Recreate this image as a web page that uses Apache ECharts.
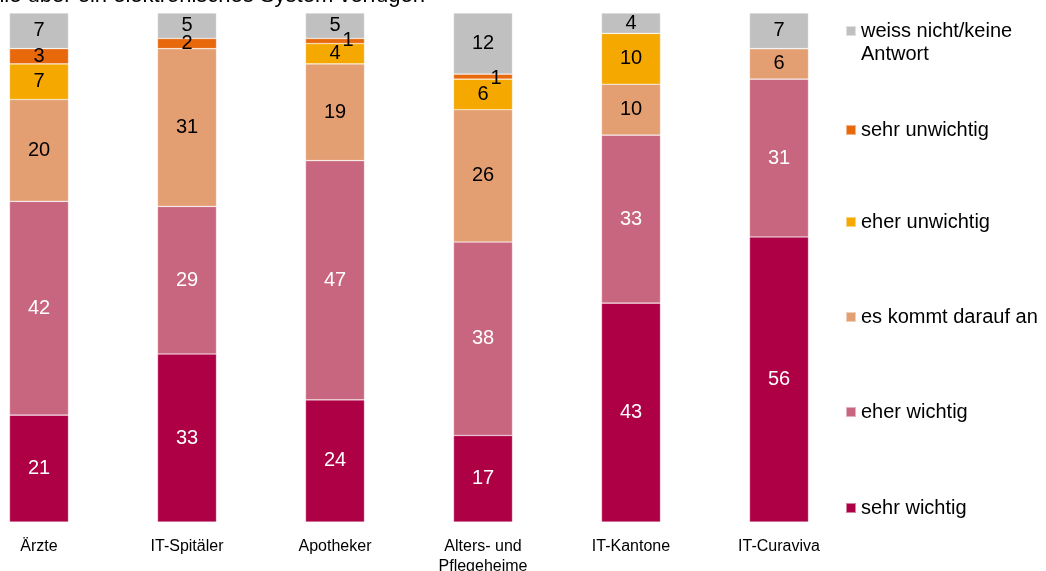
<!DOCTYPE html>
<html>
<head>
<meta charset="utf-8">
<script src="https://cdn.jsdelivr.net/npm/echarts@6/dist/echarts.min.js"></script>
<style>
html,body{margin:0;padding:0;background:#fff;}
#chart{width:1046px;height:571px;}
</style>
</head>
<body>
<div id="chart"></div>
<script>
const titleText = 'alle über ein elektronisches System verfügen';
const categories = ['Ärzte', 'IT-Spitäler', 'Apotheker', 'Alters- und\nPflegeheime', 'IT-Kantone', 'IT-Curaviva'];
const seriesNames = ['sehr wichtig', 'eher wichtig', 'es kommt darauf an', 'eher unwichtig', 'sehr unwichtig', 'weiss nicht/keine Antwort'];
const sehrWichtig     = [21, 33, 24, 17, 43, 56];
const eherWichtig     = [42, 29, 47, 38, 33, 31];
const esKommtDarauf   = [20, 31, 19, 26, 10, 6];
const eherUnwichtig   = [7, 0, 4, 6, 10, 0];
const sehrUnwichtig   = [3, 2, 1, 1, 0, 0];
const weissNicht      = [7, 5, 5, 12, 4, 7];

const values = [sehrWichtig, eherWichtig, esKommtDarauf, eherUnwichtig, sehrUnwichtig, weissNicht];
const colors = ['#AE0045', '#C8667F', '#E39E72', '#F5A800', '#E8680C', '#C0C0C0'];
const labelColors = ['#fff', '#fff', '#000', '#000', '#000', '#000'];

const font = '"Liberation Sans", Arial, sans-serif';

const series = seriesNames.map((name, si) => ({
  name: name,
  type: 'bar',
  stack: 'total',
  barWidth: 59,
  itemStyle: { color: colors[si], borderColor: 'rgba(255,255,255,0.5)', borderWidth: 0.6 },
  label: {
    show: true,
    position: 'inside',
    color: labelColors[si],
    fontSize: 20,
    fontFamily: font,
    formatter: p => (p.value > 0 ? String(p.value) : '')
  },
  data: values[si].map((v, ci) => {
    if (si === 4 && v === 1) {
      return { value: v, label: { offset: [13, ci === 3 ? 2 : -1] } };
    }
    return v;
  })
}));

const legendCenters = [31, 129, 221, 316, 411, 507];
const legendOrder = [5, 4, 3, 2, 1, 0];
const legends = legendOrder.map((si, i) => {
  const lg = {
    data: [seriesNames[si]],
    left: 840,
    top: legendCenters[i] - 14,
    orient: 'vertical',
    icon: 'rect',
    itemWidth: 10,
    itemHeight: 10,
    selectedMode: false,
    textStyle: { fontSize: 20, color: '#000', fontFamily: font }
  };
  if (si === 5) {
    // blank first line keeps the marker level with the first text line
    lg.formatter = () => ' \nweiss nicht/keine\nAntwort';
    lg.textStyle.lineHeight = 23;
    lg.top = legendCenters[i] - 39.5;
  }
  return lg;
});

const chart = echarts.init(document.getElementById('chart'), null, { renderer: 'canvas' });
chart.setOption({
  animation: false,
  backgroundColor: '#fff',
  textStyle: { fontFamily: font },
  graphic: [{
    type: 'text',
    x: 425,
    y: 7,
    style: { text: titleText, fontSize: 22, fontFamily: font, fill: '#000', align: 'right', verticalAlign: 'bottom' }
  }],
  legend: legends,
  grid: { left: -35, width: 888, top: 13, bottom: 49, containLabel: false, outerBoundsMode: 'none' },
  xAxis: {
    type: 'category',
    data: categories,
    axisLine: { show: false },
    axisTick: { show: false },
    axisLabel: { color: '#000', fontSize: 16, fontFamily: font, margin: 15, lineHeight: 20, interval: 0 }
  },
  yAxis: {
    type: 'value',
    min: 0,
    max: 100,
    interval: 20,
    show: false,
    splitLine: { show: false }
  },
  series: series
});
</script>
</body>
</html>
